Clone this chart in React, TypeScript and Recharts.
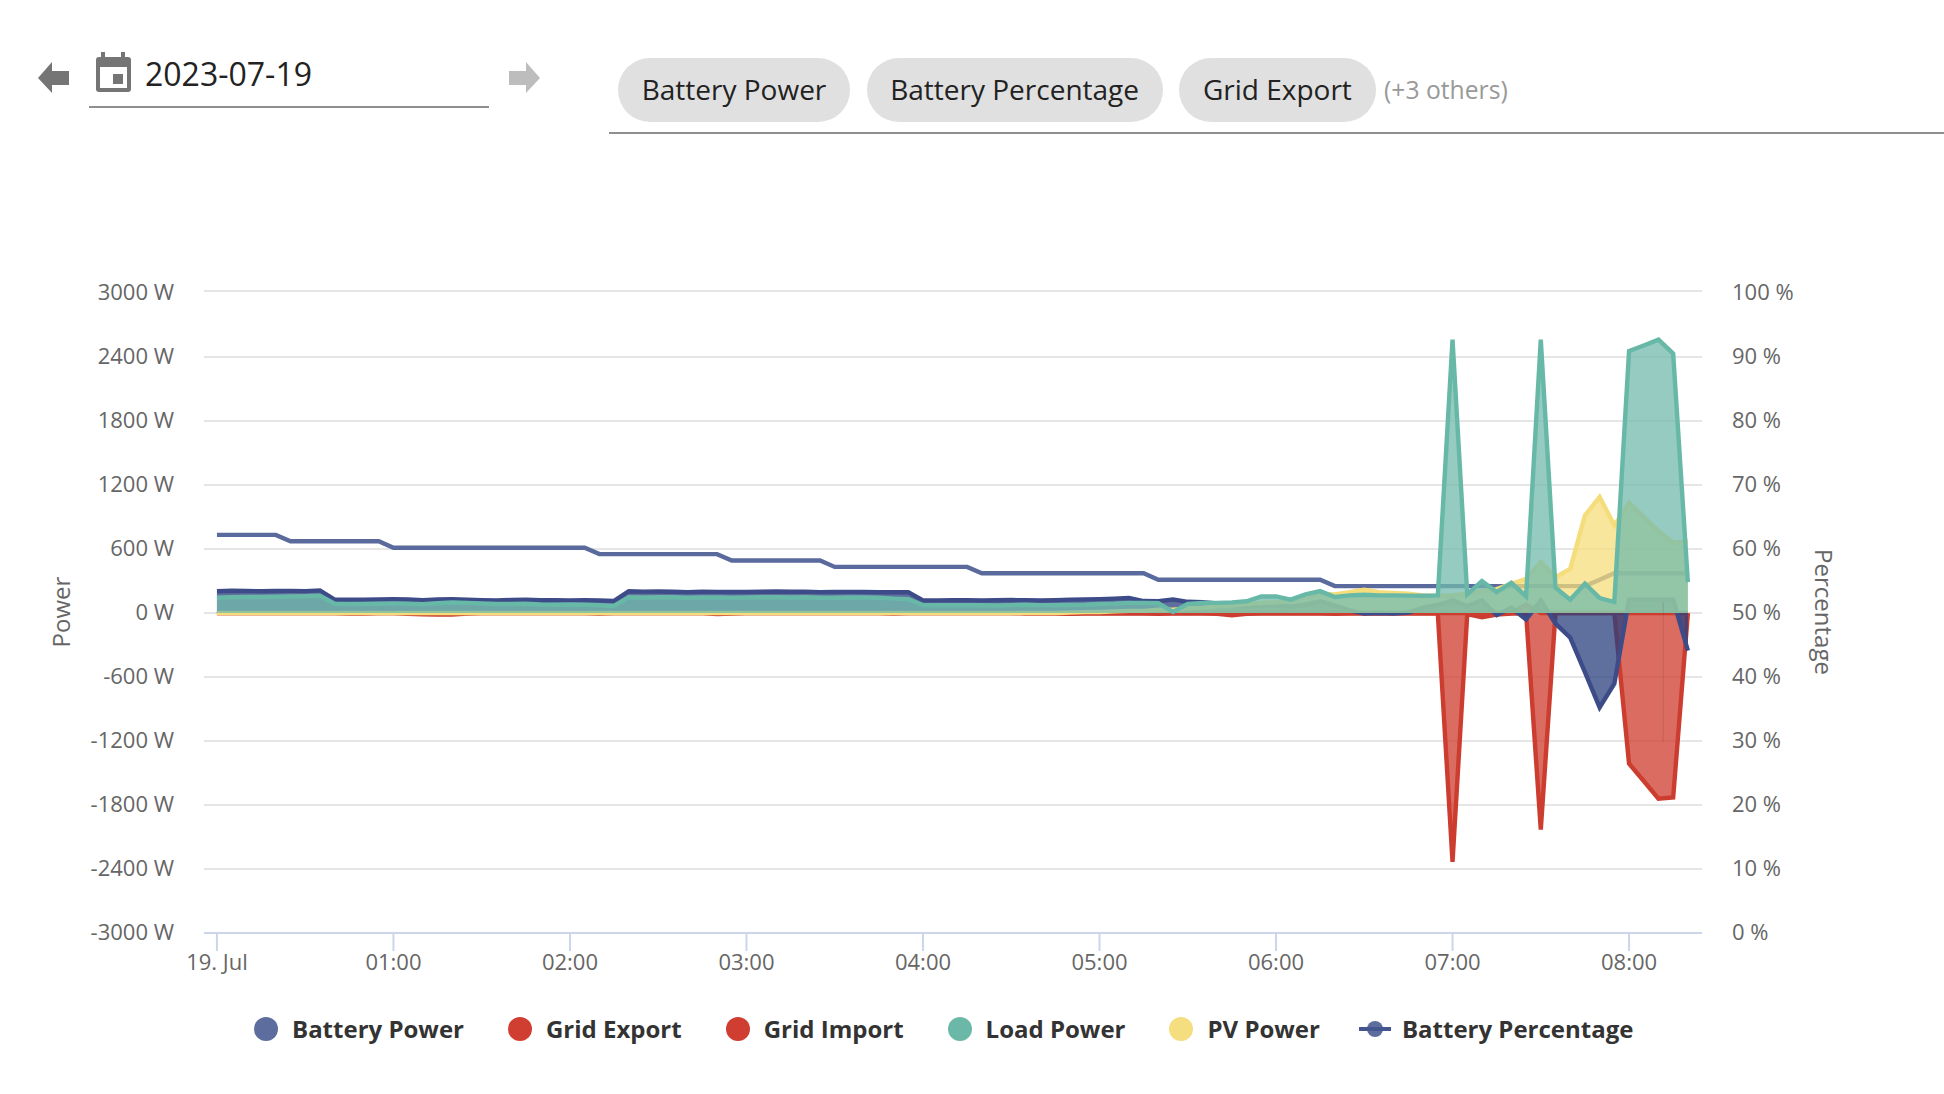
import { ComposedChart, Area, XAxis, YAxis, CartesianGrid, ReferenceLine } from "recharts"

const minutes = [
    0, 5, 10, 15, 20, 25, 30, 35, 40, 45, 50, 55,
    60, 65, 70, 75, 80, 85, 90, 95, 100, 105, 110, 115,
    120, 125, 130, 135, 140, 145, 150, 155, 160, 165, 170, 175,
    180, 185, 190, 195, 200, 205, 210, 215, 220, 225, 230, 235,
    240, 245, 250, 255, 260, 265, 270, 275, 280, 285, 290, 295,
    300, 305, 310, 315, 320, 325, 330, 335, 340, 345, 350, 355,
    360, 365, 370, 375, 380, 385, 390, 395, 400, 405, 410, 415,
    420, 425, 430, 435, 440, 445, 450, 455, 460, 465, 470, 475,
    480, 485, 490, 495, 500,
]

const batteryPower = [
    204, 208, 206, 204, 206, 207, 205, 212,
    126, 124, 125, 128, 130, 127, 120, 128, 129, 125, 120, 118, 122, 124, 120, 119, 118, 120, 117, 114,
    204, 200, 201, 199, 196, 199, 198, 197, 197, 199, 201, 199, 200, 196, 197, 198, 197, 195, 195, 195,
    117, 118, 120, 119, 117, 120, 122, 119, 117, 121, 125, 128, 130, 135, 140, 112, 110,
    126, 105, 102, 90, 70, 60, 72, 70, 62,
    80, 109, 70, 25, -5, 0, -5, 5, 50, 75, 118, 65, 118, -20, 50, -60, 118,
    -100, -230, -555, -885, -662, 125, 125, 125, 125, -352,
]

const gridExport = [
    0, 0, 0, 0, 0, 0, 0, 0, 0, -4, -5, 0,
    0, -8, -12, -14, -14, -6, 0, 0, 0, 0, 0, 0,
    0, 0, -5, 0, 0, 0, 0, 0, 0, 0, -10, -5,
    0, 0, 0, 0, 0, 0, 0, 0, 0, 0, -5, 0,
    0, 0, 0, 0, 0, 0, 0, -5, -6, -6, -7, -6,
    -5, -6, -5, -6, -8, -4, -5, -6, -8, -22, -8, -5,
    -5, -6, -4, -5, -8, -6, -4, -5, -6, -5, -4, -5,
    -2334, -10, -40, -15, -5, -2, -2030, 0, 0, 0, 0, 0,
    -1412, -1575, -1740, -1730, 0,
]

const gridImport = [
    0, 0, 0, 0, 0, 0, 0, 0, 0, 0, 0, 0,
    0, 0, 0, 0, 0, 0, 0, 0, 0, 0, 0, 0,
    0, 0, 0, 0, 0, 0, 0, 0, 0, 0, 0, 0,
    0, 0, 0, 0, 0, 0, 0, 0, 0, 0, 0, 0,
    0, 0, 0, 0, 0, 0, 0, 0, 0, 0, 0, 0,
    0, 0, 0, 0, 0, 0, 0, 0, 0, 0, 0, 0,
    0, 0, 0, 0, 0, 0, 0, 0, 0, 0, 0, 0,
    0, 0, 0, 0, 0, 80, 0, 0, 0, 0, 0, 0,
    0, 0, 0, 0, 0,
]

const loadPower = [
    143, 148, 150, 150, 152, 155, 158, 162,
    87, 85, 85, 87, 90, 88, 82, 92, 98, 95, 90, 85, 85, 87, 80, 78, 80, 78, 72, 66,
    148, 146, 148, 147, 143, 145, 145, 144, 146, 148, 148, 146, 147, 143, 143, 145, 146, 143, 135, 130,
    75, 72, 72, 74, 72, 70, 74, 78, 74, 72, 75, 78, 85, 88, 95, 95, 92,
    10, 85, 95, 95, 100, 110, 155, 155, 125, 175, 205, 150, 165, 171, 165, 165, 163, 162, 165,
    2563, 175, 299, 196, 283, 156, 2563, 237, 125, 274, 140, 103,
    2456, 2508, 2563, 2432, 290,
]

const pvPower = [
    0, 0, 0, 0, 0, 0, 0, 0, 0, 0, 0, 0,
    0, 0, 0, 0, 0, 0, 0, 0, 0, 0, 0, 0,
    0, 0, 0, 0, 0, 0, 0, 0, 0, 0, 0, 0,
    0, 0, 0, 0, 0, 0, 0, 0, 0, 0, 0, 0,
    0, 0, 0, 0, 0, 0, 0, 0, 0, 0, 5, 8,
    10, 15, 20, 20, 30, 30, 45, 50, 60, 70, 85, 95,
    100, 110, 150, 180, 175, 196, 218, 196, 187, 180, 165, 162,
    165, 180, 205, 224, 274, 320, 476, 336, 414, 915, 1087, 822,
    1031, 900, 768, 656, 675,
]

const batteryPercentage = [
    62.2, 62.2, 62.2, 62.2, 62.2,
    61.2, 61.2, 61.2, 61.2, 61.2, 61.2, 61.2,
    60.2, 60.2, 60.2, 60.2, 60.2, 60.2, 60.2, 60.2, 60.2, 60.2, 60.2, 60.2, 60.2, 60.2,
    59.2, 59.2, 59.2, 59.2, 59.2, 59.2, 59.2, 59.2, 59.2,
    58.2, 58.2, 58.2, 58.2, 58.2, 58.2, 58.2,
    57.2, 57.2, 57.2, 57.2, 57.2, 57.2, 57.2, 57.2, 57.2, 57.2,
    56.2, 56.2, 56.2, 56.2, 56.2, 56.2, 56.2, 56.2, 56.2, 56.2, 56.2, 56.2,
    55.2, 55.2, 55.2, 55.2, 55.2, 55.2, 55.2, 55.2, 55.2, 55.2, 55.2, 55.2,
    54.2, 54.2, 54.2, 54.2, 54.2, 54.2, 54.2, 54.2, 54.2, 54.2, 54.2, 54.2, 54.2, 54.2, 54.2, 54.2, 54.2, 54.2,
    55.2,
    56.2, 56.2, 56.2, 56.2, 56.2, 56.2,
]

const powerTicks = [-3000, -2400, -1800, -1200, -600, 0, 600, 1200, 1800, 2400, 3000]
const percentTicks = [0, 10, 20, 30, 40, 50, 60, 70, 80, 90, 100]
const hourTicks = [0, 60, 120, 180, 240, 300, 360, 420, 480]
const hourLabels = ["19. Jul", "01:00", "02:00", "03:00", "04:00", "05:00", "06:00", "07:00", "08:00"]
const chips = ["Battery Power", "Battery Percentage", "Grid Export"]

const legendNames = ["Battery Power", "Grid Export", "Grid Import", "Load Power", "PV Power"]
const legendColors = ["#5d6d9e", "#cf3e31", "#cf3e31", "#6cb8a8", "#f5de7f"]

const chartData = minutes.map((minute, i) => ({
    minute,
    batteryPower: batteryPower[i],
    gridExport: gridExport[i],
    gridImport: gridImport[i],
    loadPower: loadPower[i],
    pvPower: pvPower[i],
    batteryPercentage: batteryPercentage[i],
}))

const font = "'Open Sans', sans-serif"
const tickStyle = { fill: "#666666", fontSize: 22, fontFamily: font }
const strokeW = 4.4
const fillAlpha = 0.75

function Header() {
    return (
        <>
            <svg style={{ position: "absolute", left: 0, top: 0 }} width={560} height={130}>
                <polygon points="38,78 52,62 52,71 69,71 69,85 52,85 52,93" fill="#757575" />
                <polygon points="540,78 526,62 526,71 509,71 509,85 526,85 526,93" fill="#bdbdbd" />
                <rect x={101} y={52} width={4} height={8} fill="#757575" />
                <rect x={121} y={52} width={4} height={8} fill="#757575" />
                <rect x={96} y={57} width={35} height={35} rx={3} fill="#757575" />
                <rect x={100} y={67} width={27} height={21} fill="#ffffff" />
                <rect x={113} y={74} width={10} height={10} fill="#757575" />
            </svg>
            <div style={{ position: "absolute", left: 145, top: 52, fontSize: 32, color: "#222222", fontFamily: font, lineHeight: "44px" }}>
                2023-07-19
            </div>
            <div style={{ position: "absolute", left: 89, top: 106, width: 400, height: 2, background: "#8f8f8f" }} />
            <div style={{ position: "absolute", left: 618, top: 58, display: "flex", alignItems: "center", gap: 16.5, fontFamily: font }}>
                {chips.map(c => (
                    <div key={c} style={{ background: "#e0e0e0", borderRadius: 32, height: 64, lineHeight: "62px", padding: "0 23.7px", fontSize: 28, color: "#222222" }}>
                        {c}
                    </div>
                ))}
                <div style={{ fontSize: 24.7, color: "#999999", marginLeft: -8, marginTop: -2 }}>(+3 others)</div>
            </div>
            <div style={{ position: "absolute", left: 609, right: 0, top: 132, height: 2, background: "#8f8f8f" }} />
        </>
    )
}

function ChartLegend() {
    return (
        <div style={{ position: "absolute", left: 254, top: 1010.5, height: 36, display: "flex", alignItems: "center", gap: 44, fontFamily: font, fontSize: 24, fontWeight: 700, color: "#333333" }}>
            {legendNames.map((name, i) => (
                <div key={name} style={{ display: "flex", alignItems: "center", gap: 14 }}>
                    <span style={{ width: 24, height: 24, borderRadius: 12, background: legendColors[i] }} />
                    {name}
                </div>
            ))}
            <div style={{ display: "flex", alignItems: "center", gap: 11, marginLeft: -5 }}>
                <svg width={32} height={24}>
                    <circle cx={16} cy={12} r={8} fill="#5d6d9e" />
                    <line x1={0} x2={32} y1={12} y2={12} stroke="#44558f" strokeWidth={4} />
                </svg>
                Battery Percentage
            </div>
        </div>
    )
}

export default function App() {
    return (
        <div style={{ position: "absolute", left: 0, top: 0, width: 1944, height: 1094, overflow: "hidden", background: "#fff" }}>
            <Header />
            <div style={{ position: "absolute", left: 0, top: 0 }}>
                <ComposedChart width={1944} height={1094} data={chartData} margin={{ top: 293, right: 0, bottom: 101, left: 0 }}>
                    {/* top gridline sits 2px above the 3000 W tick in the source */}
                    <CartesianGrid
                        horizontal
                        vertical={false}
                        stroke="#e6e6e6"
                        strokeWidth={2}
                        horizontalPoints={[291, 357, 421, 485, 549, 613, 677, 741, 805, 869]}
                    />
                    <XAxis
                        dataKey="minute"
                        type="number"
                        domain={[-4.4, 504.8]}
                        ticks={hourTicks}
                        interval={0}
                        tickFormatter={(v: number) => hourLabels[hourTicks.indexOf(v)]}
                        height={60}
                        tickSize={18}
                        tickMargin={3}
                        tickLine={{ stroke: "#ccd6eb", strokeWidth: 2 }}
                        axisLine={{ stroke: "#ccd6eb", strokeWidth: 2 }}
                        tick={tickStyle}
                    />
                    <YAxis
                        yAxisId="power"
                        width={204}
                        domain={[-3000, 3000]}
                        ticks={powerTicks}
                        interval={0}
                        tickFormatter={(v: number) => `${v} W`}
                        tickLine={false}
                        axisLine={false}
                        tickSize={0}
                        tickMargin={30}
                        tick={{ ...tickStyle, dy: -1 }}
                        label={{ value: "Power", angle: -90, position: "insideLeft", dx: 56, dy: -1, style: { fill: "#666666", fontSize: 24, fontFamily: font, textAnchor: "middle" } }}
                    />
                    <YAxis
                        yAxisId="percent"
                        orientation="right"
                        width={242}
                        domain={[0, 100]}
                        ticks={percentTicks}
                        interval={0}
                        tickFormatter={(v: number) => `${v} %`}
                        tickLine={false}
                        axisLine={false}
                        tickSize={0}
                        tickMargin={30}
                        tick={{ ...tickStyle, dy: -1 }}
                        label={{ value: "Percentage", angle: 90, position: "insideRight", dx: -115, dy: -1, style: { fill: "#666666", fontSize: 24, fontFamily: font, textAnchor: "middle" } }}
                    />
                    {/* area with no fill so it stays behind the other series */}
                    <Area yAxisId="percent" dataKey="batteryPercentage" type="linear" stroke="#5a6a9c" strokeWidth={strokeW} fill="none" dot={false} isAnimationActive={false} />
                    <Area yAxisId="power" dataKey="gridExport" type="linear" stroke="#cc3d30" strokeWidth={strokeW} fill="#cf3b2e" fillOpacity={fillAlpha} dot={false} isAnimationActive={false} />
                    <Area yAxisId="power" dataKey="gridImport" type="linear" stroke="#cc3d30" strokeWidth={strokeW} fill="#cf3b2e" fillOpacity={fillAlpha} dot={false} isAnimationActive={false} />
                    <Area yAxisId="power" dataKey="batteryPower" type="linear" stroke="#3d4c88" strokeWidth={strokeW} fill="#2a3f7e" fillOpacity={fillAlpha} dot={false} isAnimationActive={false} />
                    <Area yAxisId="power" dataKey="pvPower" type="linear" stroke="#f5dd7c" strokeWidth={strokeW} fill="#f4de7a" fillOpacity={fillAlpha} dot={false} isAnimationActive={false} />
                    <Area yAxisId="power" dataKey="loadPower" type="linear" stroke="#68b8a8" strokeWidth={strokeW} fill="#72baab" fillOpacity={fillAlpha} dot={false} isAnimationActive={false} />
                    <ReferenceLine
                        yAxisId="power"
                        segment={[{ x: 491.6, y: 100 }, { x: 491.6, y: -1210 }]}
                        stroke="#6b3a3a"
                        strokeOpacity={0.2}
                        strokeWidth={1}
                    />
                </ComposedChart>
            </div>
            <ChartLegend />
        </div>
    )
}
